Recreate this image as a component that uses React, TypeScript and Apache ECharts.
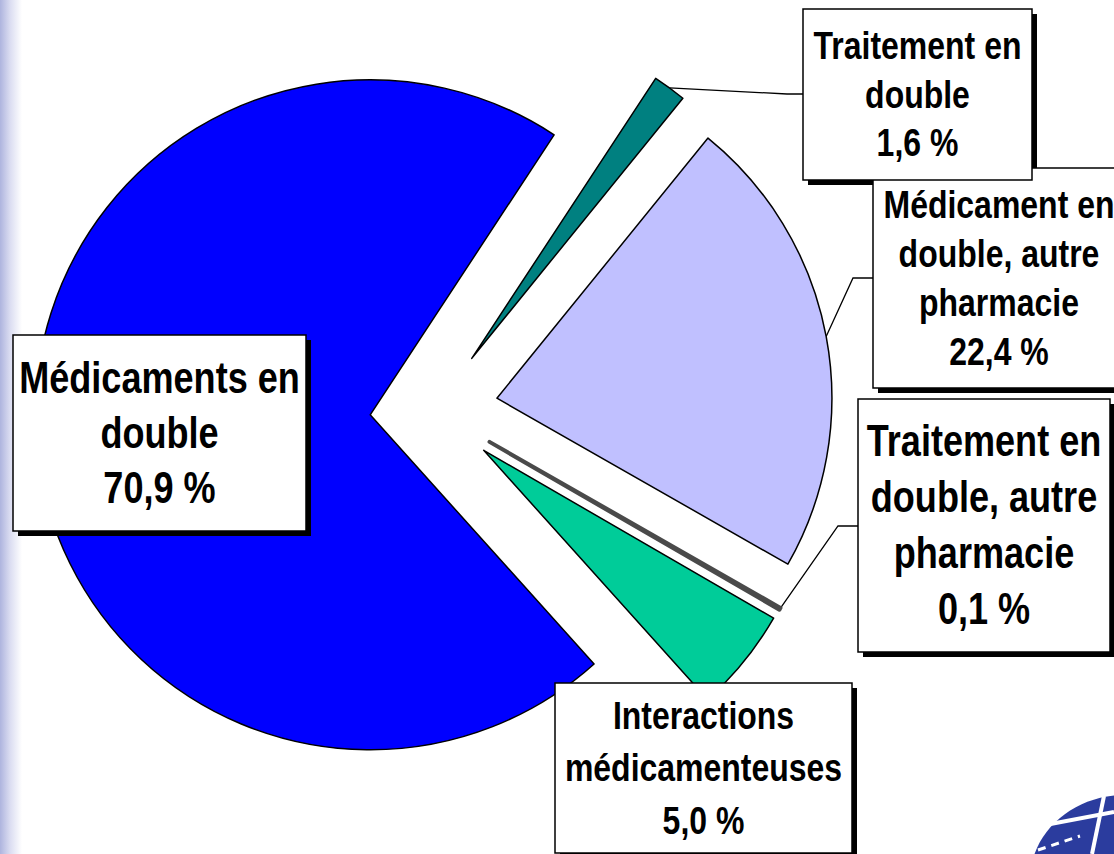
import React, { useEffect, useRef } from "react";
import * as echarts from "echarts";

// ---- data ----
const sliceNames: string[] = [
  "Traitement en\ndouble",
  "Médicament en\ndouble, autre\npharmacie",
  "Traitement en\ndouble, autre\npharmacie",
  "Interactions\nmédicamenteuses",
  "Médicaments en\ndouble",
];
const sliceValues: number[] = [1.6, 22.4, 0.1, 5.0, 70.9];
const sliceColors: string[] = ["#008080", "#C0C0FF", "#4A4A4A", "#00CC99", "#0000FF"];

// ---- layout (not data) ----
const PIE_CENTER = [434, 410];
const PIE_RADIUS = 335;
const EXPLODE = 64;
const START_ANGLE = 56.7;
const FONT = "'Liberation Sans', Arial, sans-serif";
const NARROW = 0.82;
const labelBoxes = [
  { cx: 917.5, cy: 94.5, w: 229, h: 171, fs: 39, lh: 48.5 },
  { cx: 999, cy: 278, w: 252, h: 220, fs: 39, lh: 49 },
  { cx: 984, cy: 525.5, w: 252, h: 253, fs: 44, lh: 56 },
  { cx: 703.5, cy: 768, w: 297, h: 170, fs: 39, lh: 52.5 },
  { cx: 159.5, cy: 433, w: 293, h: 196, fs: 44, lh: 55 },
];
const labelElbows: (number[][] | null)[] = [
  [[787, 94], [803, 94]],
  [[853, 278], [873, 278]],
  [[838, 526], [858, 526]],
  null,
  null,
];
const seriesOrder = [4, 0, 1, 2, 3];
const labelOrder = [1, 0, 2, 3, 4];

function fmt(v: number) {
  return v.toFixed(1).replace(".", ",") + " %";
}

export default function App() {
  const ref = useRef<HTMLDivElement>(null);
  useEffect(() => {
    if (!ref.current) return;
    const chart = echarts.init(ref.current, undefined, { renderer: "svg" });
    const total = sliceValues.reduce((a, b) => a + b, 0);
    const mids: number[] = [];
    let cum = 0;
    sliceValues.forEach((v) => {
      mids.push(((START_ANGLE - ((cum + v / 2) / total) * 360) * Math.PI) / 180);
      cum += v;
    });
    const centers = mids.map((m) => [
      PIE_CENTER[0] + EXPLODE * Math.cos(m),
      PIE_CENTER[1] - EXPLODE * Math.sin(m),
    ]);

    const series = seriesOrder.map((i) => ({
      type: "pie",
      center: centers[i],
      radius: PIE_RADIUS,
      startAngle: START_ANGLE,
      clockwise: true,
      silent: true,
      avoidLabelOverlap: false,
      emphasis: { disabled: true },
      z: 2,
      label: { show: false },
      labelLine: { show: false },
      data: sliceValues.map((v, j) => ({
        name: sliceNames[j],
        value: v,
        itemStyle:
          j === i
            ? {
                color: sliceColors[j],
                borderColor: j === 2 ? sliceColors[j] : "#000",
                borderWidth: j === 2 ? 4 : 1.5,
                borderCap: "round",
                borderJoin: "round",
              }
            : { color: "rgba(0,0,0,0)", borderWidth: 0 },
      })),
    }));

    const guideLines: any[] = [];
    labelElbows.forEach((elbow, i) => {
      if (!elbow) return;
      const a = [
        centers[i][0] + PIE_RADIUS * Math.cos(mids[i]),
        centers[i][1] - PIE_RADIUS * Math.sin(mids[i]),
      ];
      guideLines.push({
        type: "polyline",
        z: 1,
        silent: true,
        shape: { points: [a, ...elbow] },
        style: { stroke: "#000", lineWidth: 1.3, fill: null },
      });
    });

    const labels = labelOrder.map((i) => {
      const b = labelBoxes[i];
      return {
        type: "group",
        x: b.cx,
        y: b.cy,
        z: 20,
        silent: true,
        children: [
          {
            type: "rect",
            shape: { x: -b.w / 2 + 5, y: -b.h / 2 + 5, width: b.w, height: b.h },
            style: { fill: "#000" },
            z: 20,
          },
          {
            type: "rect",
            shape: { x: -b.w / 2, y: -b.h / 2, width: b.w, height: b.h },
            style: { fill: "#fff", stroke: "#000", lineWidth: 1.5 },
            z: 21,
          },
          {
            type: "text",
            x: 0,
            y: 0,
            scaleX: NARROW,
            z: 22,
            style: {
              text: sliceNames[i] + "\n" + fmt(sliceValues[i]),
              x: 0,
              y: 0,
              fill: "#000",
              font: `bold ${b.fs}px ${FONT}`,
              lineHeight: b.lh,
              align: "center",
              verticalAlign: "middle",
            },
          },
        ],
      };
    });

    chart.setOption({
      animation: false,
      backgroundColor: "#fff",
      graphic: [
        {
          type: "rect",
          z: 0,
          silent: true,
          shape: { x: 0, y: 0, width: 22, height: 854 },
          style: {
            fill: new echarts.graphic.LinearGradient(0, 0, 1, 0, [
              { offset: 0, color: "#aeb4de" },
              { offset: 0.45, color: "#dadcf1" },
              { offset: 1, color: "#ffffff" },
            ]),
          },
        },
        ...guideLines,
        {
          type: "group",
          silent: true,
          z: 0,
          children: [
            {
              type: "ellipse",
              shape: { cx: 1125, cy: 880, rx: 95, ry: 85 },
              style: { fill: "#2b3c9e" },
            },
            {
              type: "line",
              shape: { x1: 1040, y1: 826, x2: 1114, y2: 812 },
              style: { stroke: "#fff", lineWidth: 4 },
            },
            {
              type: "line",
              shape: { x1: 1104, y1: 796, x2: 1092, y2: 854 },
              style: { stroke: "#fff", lineWidth: 4 },
            },
            {
              type: "line",
              shape: { x1: 1038, y1: 850, x2: 1080, y2: 836 },
              style: { stroke: "#fff", lineWidth: 3, lineDash: [8, 6] },
            },
          ],
        },
        ...labels,
      ],
      series,
    });
    return () => chart.dispose();
  }, []);
  return (
    <div
      ref={ref}
      style={{ position: "fixed", left: 0, top: 0, width: 1114, height: 854 }}
    />
  );
}
